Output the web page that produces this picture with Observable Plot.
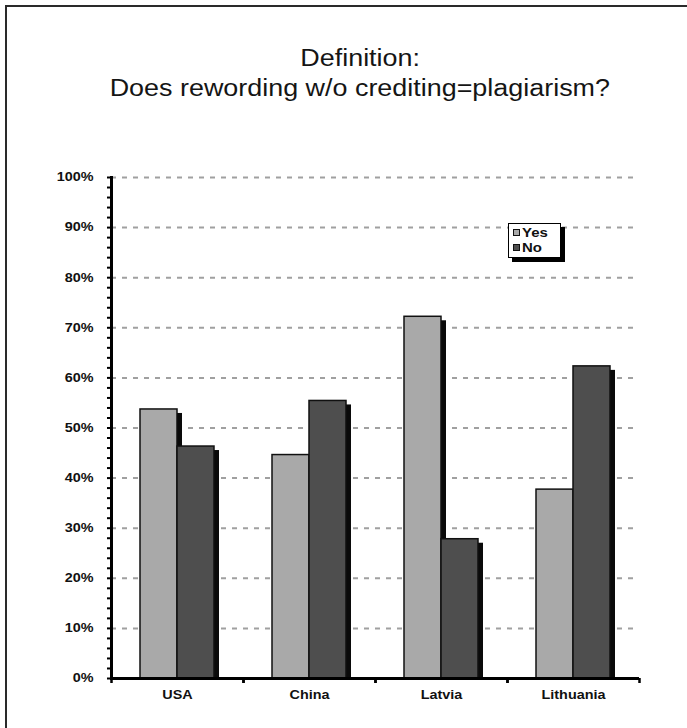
<!DOCTYPE html>
<html>
<head>
<meta charset="utf-8">
<script src="https://cdn.jsdelivr.net/npm/d3@7"></script>
<script src="https://cdn.jsdelivr.net/npm/@observablehq/plot@0.6"></script>
<style>
  html, body { margin: 0; padding: 0; background: #fff; overflow: hidden; }
  body { width: 687px; height: 728px; position: relative; font-family: "Liberation Sans", Arial, sans-serif; }
  #frame { position: absolute; left: 5px; top: 5px; width: 720px; height: 760px; border-top: 2px solid #2a2a2a; border-left: 2px solid #2a2a2a; pointer-events: none; }
  #title { position: relative; height: 140px; width: 720px; text-align: center; color: #151515; font-size: 23px; line-height: 30px; box-sizing: border-box; padding-top: 43px; }
  #title span { display: inline-block; transform: scaleX(1.17); transform-origin: 50% 50%; }
  #chart { position: relative; }
  #legend { position: absolute; left: 508px; top: 223px; width: 53px; height: 35px; background: #fff; border: 1.5px solid #000; box-shadow: 4px 4px 0 #000; font-weight: bold; font-size: 13px; color: #111; box-sizing: border-box; padding: 1px 0 0 4px; }
  #legend .row { display: flex; align-items: center; height: 15px; }
  #legend .sw { width: 5px; height: 5px; border: 1.5px solid #111; margin-right: 2px; }
  #legend .tx { display: inline-block; transform: scaleX(1.15); transform-origin: 0 50%; }
</style>
</head>
<body>
<div id="frame"></div>
<div id="title"></div>
<div id="chart"></div>
<div id="legend"></div>
<script>
// ---- data ----
const titleLines = ["Definition:", "Does rewording w/o crediting=plagiarism?"];
const countries = ["USA", "China", "Latvia", "Lithuania"];
const answers = ["Yes", "No"];
const yesValues = [0.537, 0.446, 0.722, 0.377];
const noValues = [0.463, 0.554, 0.278, 0.623];
const yTickValues = [0, 0.1, 0.2, 0.3, 0.4, 0.5, 0.6, 0.7, 0.8, 0.9, 1.0];
const yTickLabels = ["0%", "10%", "20%", "30%", "40%", "50%", "60%", "70%", "80%", "90%", "100%"];
const yMinorTicks = [0, 0.02, 0.04, 0.06, 0.08, 0.1, 0.12, 0.14, 0.16, 0.18, 0.2, 0.22, 0.24, 0.26, 0.28, 0.3, 0.32, 0.34, 0.36, 0.38, 0.4, 0.42, 0.44, 0.46, 0.48, 0.5, 0.52, 0.54, 0.56, 0.58, 0.6, 0.62, 0.64, 0.66, 0.68, 0.7, 0.72, 0.74, 0.76, 0.78, 0.8, 0.82, 0.84, 0.86, 0.88, 0.9, 0.92, 0.94, 0.96, 0.98, 1.0];
const gridValues = [0.1, 0.2, 0.3, 0.4, 0.5, 0.6, 0.7, 0.8, 0.9, 1.0];
const answerColors = ["#a9a9a9", "#4e4e4e"];

const data = countries.flatMap((c, i) => [
  {country: c, answer: answers[0], value: yesValues[i]},
  {country: c, answer: answers[1], value: noValues[i]}
]);

// title
document.getElementById("title").innerHTML = titleLines.map(t => `<div><span>${t}</span></div>`).join("");

// legend
document.getElementById("legend").innerHTML = answers.map((a, i) =>
  `<div class="row"><span class="sw" style="background:${answerColors[i]}"></span><span class="tx">${a}</span></div>`).join("");

const W = 687, H = 588, mL = 111, mR = 48, mT = 37, mB = 50;
const step = (W - mL - mR) / countries.length;

const chart = Plot.plot({
  width: W, height: H,
  marginLeft: mL, marginRight: mR, marginTop: mT, marginBottom: mB,
  style: {fontFamily: "'Liberation Sans', Arial, sans-serif", background: "transparent", color: "#111", overflow: "visible"},
  fx: {domain: countries, padding: 0, axis: null, label: null},
  x: {domain: answers, paddingInner: 0, paddingOuter: 0.737, axis: null, label: null},
  y: {domain: [0, 1], axis: null, label: null},
  color: {domain: answers, range: answerColors},
  marks: [
    Plot.gridY(gridValues, {stroke: "#a0a0a0", strokeOpacity: 1, strokeWidth: 2, strokeDasharray: "5,6"}),
    Plot.barY(data, {fx: "country", x: "answer", y: "value", fill: "#0a0a0a", dx: 5, dy: 4, insetBottom: 4}),
    Plot.barY(data, {fx: "country", x: "answer", y: "value", fill: "answer", stroke: "#111", strokeWidth: 1.5}),
    Plot.ruleY([0], {stroke: "#000", strokeWidth: 3}),
    Plot.frame({anchor: "left", facetAnchor: "left", stroke: "#000", strokeWidth: 3}),
    Plot.axisY(yMinorTicks, {tickSize: 4, tickFormat: () => "", strokeWidth: 2, stroke: "#000", label: null}),
    Plot.axisY(yTickValues, {tickSize: 0, tickPadding: 18, tickFormat: d => yTickLabels[yTickValues.indexOf(d)], fontWeight: "bold", fontSize: 12, fill: "#111", label: null}),
    Plot.axisFx({anchor: "bottom", tickSize: 0, tickPadding: 12, fontWeight: "bold", fontSize: 12, fill: "#111", label: null}),
    Plot.axisFx({anchor: "bottom", tickSize: 5, tickFormat: () => "", dx: -step / 2, strokeWidth: 2.5, stroke: "#000", label: null}),
    Plot.axisFx([countries[countries.length - 1]], {anchor: "bottom", tickSize: 5, tickFormat: () => "", dx: step / 2, strokeWidth: 2.5, stroke: "#000", label: null})
  ]
});
// widen the axis label glyphs horizontally, as in the original (style only)
d3.select(chart).selectAll("text").each(function () {
  const t = this.getAttribute("transform");
  if (t && /translate/.test(t) && this.textContent) this.setAttribute("transform", t + " scale(1.2,1)");
});
document.getElementById("chart").appendChild(chart);
</script>
</body>
</html>
